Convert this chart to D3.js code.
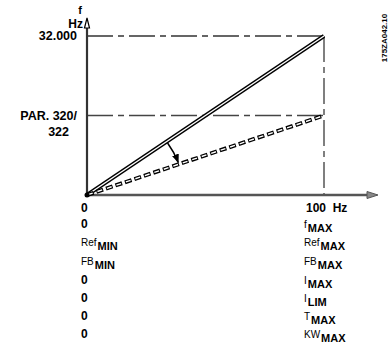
<!DOCTYPE html>
<html>
<head>
<meta charset="utf-8">
<script src="https://cdn.jsdelivr.net/npm/d3@7"></script>
<style>
  body { margin: 0; background: #fff; }
  text { font-family: "Liberation Sans", Arial, sans-serif; font-weight: bold; fill: #000; }
</style>
</head>
<body>
<svg></svg>
<script>
// values
let xDomain = [0, 100];
let yDomain = [0, 32];
let fMaxValue = 32;      // 32.000 Hz
let parValue = 16;       // PAR. 320/322
let solidLine = [[0, 0], [100, 32]];
let dashedLine = [[0, 0], [100, 16]];
let arrowFrom = 34;      // x on solid line
let arrowTo = 38.5;      // x on dashed line

let yLabels = [
    {value: 32, lines: ['32.000']},
    {value: 16, lines: ['PAR. 320/', '322']}
];
let xTickLabels = ['0', '100  Hz'];
let minLabels = [['0', ''], ['Ref', 'MIN'], ['FB', 'MIN'], ['0', ''], ['0', ''], ['0', ''], ['0', '']];
let maxLabels = [['f', 'MAX'], ['Ref', 'MAX'], ['FB', 'MAX'], ['I', 'MAX'], ['I', 'LIM'], ['T', 'MAX'], ['KW', 'MAX']];
let rowBaselines = [228, 246, 265, 284, 302, 320, 338];

let width = 390;
let height = 345;

let svg = d3.select('svg')
    .attr('width', width)
    .attr('height', height);

let x = d3.scaleLinear().domain(xDomain).range([87, 324]);
let y = d3.scaleLinear().domain(yDomain).range([195, 36]);

let defs = svg.append('defs');
defs.append('marker')
    .attr('id', 'head')
    .attr('viewBox', '0 0 10 10')
    .attr('refX', 9).attr('refY', 5)
    .attr('markerWidth', 6).attr('markerHeight', 6)
    .attr('orient', 'auto')
  .append('path')
    .attr('d', 'M0,1 L10,5 L0,9 Z')
    .attr('fill', '#000');

let dashDot = '26,5,6,5';

// reference lines (dash-dot)
svg.append('line')
    .attr('x1', x(0)).attr('x2', x(100))
    .attr('y1', y(fMaxValue)).attr('y2', y(fMaxValue))
    .attr('stroke', '#333').attr('stroke-width', 1.3)
    .attr('stroke-dasharray', dashDot);
svg.append('line')
    .attr('x1', x(0)).attr('x2', x(100))
    .attr('y1', y(parValue)).attr('y2', y(parValue))
    .attr('stroke', '#444').attr('stroke-width', 1.5)
    .attr('stroke-dasharray', dashDot);
svg.append('line')
    .attr('x1', x(100)).attr('x2', x(100))
    .attr('y1', y(fMaxValue)).attr('y2', y(0))
    .attr('stroke', '#555').attr('stroke-width', 1.5)
    .attr('stroke-dasharray', dashDot);

// axes
svg.append('line')
    .attr('x1', x(0)).attr('x2', 368)
    .attr('y1', y(0)).attr('y2', y(0))
    .attr('stroke', '#555').attr('stroke-width', 2.5);
svg.append('path')
    .attr('d', `M367,${y(0) - 3.5} L378,${y(0)} L367,${y(0) + 3.5} Z`)
    .attr('fill', '#888').attr('stroke', '#555').attr('stroke-width', 1);
svg.append('line')
    .attr('x1', x(0)).attr('x2', x(0))
    .attr('y1', y(0) + 1).attr('y2', 26)
    .attr('stroke', '#333').attr('stroke-width', 2.2);
svg.append('path')
    .attr('d', `M${x(0) - 2.5},28 L${x(0)},18 L${x(0) + 2.5},28 Z`)
    .attr('fill', '#fff').attr('stroke', '#000').attr('stroke-width', 1.2);

let line = d3.line().x(d => x(d[0])).y(d => y(d[1]));

// solid double line
svg.append('path').datum(solidLine)
    .attr('d', line).attr('stroke', '#000').attr('stroke-width', 4).attr('fill', 'none');
svg.append('path').datum(solidLine)
    .attr('d', line).attr('stroke', '#fff').attr('stroke-width', 1.4).attr('fill', 'none');

// dashed double line (small outlined boxes)
svg.append('path').datum(dashedLine)
    .attr('d', line).attr('stroke', '#000').attr('stroke-width', 4)
    .attr('stroke-dasharray', '7,3').attr('fill', 'none');
svg.append('path').datum(dashedLine)
    .attr('d', line).attr('stroke', '#fff').attr('stroke-width', 1.4)
    .attr('stroke-dasharray', '5,5').attr('stroke-dashoffset', -1).attr('fill', 'none');

// origin dot
svg.append('circle')
    .attr('cx', x(0)).attr('cy', y(0)).attr('r', 2.5).attr('fill', '#000');

// arrow between the lines
let p0 = [x(arrowFrom), y(arrowFrom * solidLine[1][1] / 100)];
let p1 = [x(arrowTo), y(arrowTo * dashedLine[1][1] / 100)];
svg.append('path')
    .attr('d', `M${p0[0]},${p0[1] + 2} Q${p0[0] + 7},${(p0[1] + p1[1]) / 2} ${p1[0]},${p1[1] - 2}`)
    .attr('stroke', '#000').attr('stroke-width', 1.5).attr('fill', 'none')
    .attr('marker-end', 'url(#head)');

// y labels
svg.append('text').attr('x', 80).attr('y', 14).attr('text-anchor', 'middle')
    .style('font-size', '11px').text('f');
svg.append('text').attr('x', 83).attr('y', 28).attr('text-anchor', 'end')
    .style('font-size', '12px').text('Hz');

yLabels.forEach(d => {
    d.lines.forEach((t, i) => {
        svg.append('text')
            .attr('x', i === 0 ? 77 : 69)
            .attr('y', y(d.value) + 4 + i * 16)
            .attr('text-anchor', 'end')
            .style('font-size', '12.5px')
            .text(t);
    });
});

// x tick labels
svg.append('text').attr('x', x(0) - 6).attr('y', 212)
    .style('font-size', '12px').text(xTickLabels[0]);
svg.append('text').attr('x', 306).attr('y', 212)
    .style('font-size', '12px').attr('xml:space', 'preserve')
    .text(xTickLabels[1]);

function addRows(labels, x0) {
    labels.forEach((d, i) => {
        let t = svg.append('text')
            .attr('x', x0)
            .attr('y', rowBaselines[i])
            .style('font-size', d[1] ? '10px' : '12px')
            .style('font-weight', d[1] ? 'normal' : 'bold');
        t.append('tspan').text(d[0]);
        if (d[1]) {
            t.append('tspan')
                .attr('dy', 4)
                .attr('dx', 1)
                .style('font-size', '11px')
                .style('font-weight', 'bold')
                .text(d[1]);
        }
    });
}
addRows(minLabels, x(0) - 6);
addRows(maxLabels, 304);

// drawing code at the right edge
svg.append('text')
    .attr('transform', 'translate(387,38) rotate(-90)')
    .attr('text-anchor', 'middle')
    .style('font-size', '8px')
    .text('175ZA042.10');
</script>
</body>
</html>
